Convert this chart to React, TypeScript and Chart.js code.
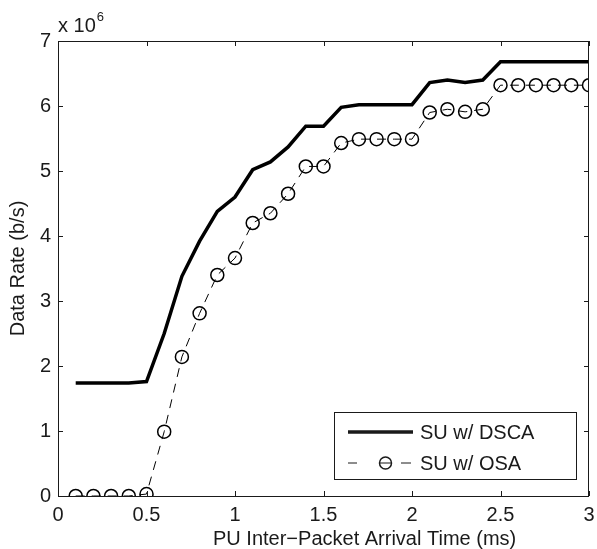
import React, { useEffect, useRef } from "react";
import { Chart, registerables } from "chart.js";

Chart.register(...registerables);

const xValues = [0.1, 0.2, 0.3, 0.4, 0.5, 0.6, 0.7, 0.8, 0.9, 1.0, 1.1, 1.2, 1.3, 1.4, 1.5, 1.6, 1.7, 1.8, 1.9, 2.0, 2.1, 2.2, 2.3, 2.4, 2.5, 2.6, 2.7, 2.8, 2.9, 3.0];
const dscaValues = [1.74, 1.74, 1.74, 1.74, 1.76, 2.5, 3.38, 3.92, 4.38, 4.6, 5.02, 5.14, 5.37, 5.69, 5.69, 5.98, 6.02, 6.02, 6.02, 6.02, 6.36, 6.4, 6.36, 6.4, 6.68, 6.68, 6.68, 6.68, 6.68, 6.68];
const osaValues = [0, 0, 0, 0, 0.03, 0.99, 2.14, 2.81, 3.4, 3.66, 4.2, 4.35, 4.65, 5.07, 5.07, 5.43, 5.49, 5.49, 5.49, 5.49, 5.9, 5.95, 5.91, 5.95, 6.32, 6.32, 6.32, 6.32, 6.32, 6.32];
const SCALE = 1e6;
const xTicks = [0, 0.5, 1, 1.5, 2, 2.5, 3];
const yTicks = [0, 1, 2, 3, 4, 5, 6, 7];
const seriesNames = ["SU w/ DSCA", "SU w/ OSA"];
const xTitle = "PU Inter\u2212Packet Arrival Time (ms)";
const yTitle = "Data Rate (b/s)";

const FONT = "'Liberation Sans', Arial, Helvetica, sans-serif";
const INK = "#1a1a1a";

const overlay = {
  id: "matlabOverlay",
  afterDraw(chart: any) {
    const { ctx, chartArea: a, scales } = chart;
    const xs = scales.x;
    const ys = scales.y;
    ctx.save();
    ctx.strokeStyle = INK;
    ctx.lineWidth = 1;
    // box
    ctx.strokeRect(Math.round(a.left) + 0.5, Math.round(a.top) + 0.5, Math.round(a.right - a.left) - 1, Math.round(a.bottom - a.top));
    // inward ticks
    const tl = 5;
    ctx.beginPath();
    xTicks.forEach((t) => {
      const px = Math.round(xs.getPixelForValue(t)) + 0.5;
      ctx.moveTo(px, a.bottom);
      ctx.lineTo(px, a.bottom - tl);
      ctx.moveTo(px, a.top);
      ctx.lineTo(px, a.top + tl);
    });
    yTicks.forEach((t) => {
      const py = Math.round(ys.getPixelForValue(t * SCALE)) + 0.5;
      ctx.moveTo(a.left, py);
      ctx.lineTo(a.left + tl, py);
      ctx.moveTo(a.right, py);
      ctx.lineTo(a.right - tl, py);
    });
    ctx.stroke();

    ctx.fillStyle = INK;
    // exponent label
    ctx.textBaseline = "alphabetic";
    ctx.textAlign = "left";
    ctx.font = `20px ${FONT}`;
    const base = "x 10";
    ctx.fillText(base, a.left, 32);
    const w = ctx.measureText(base).width;
    ctx.font = `13px ${FONT}`;
    ctx.fillText("6", a.left + w + 1, 21);

    // axis titles
    ctx.font = `20px ${FONT}`;
    ctx.textAlign = "left";
    ctx.textBaseline = "middle";
    ctx.fillText(xTitle, 213, 539);
    ctx.save();
    ctx.translate(18, (a.top + a.bottom) / 2);
    ctx.rotate(-Math.PI / 2);
    ctx.textAlign = "center";
    ctx.fillText(yTitle, 0, 0);
    ctx.restore();

    // legend
    const lx = 334, ly = 412, lw = 242, lh = 67;
    ctx.fillStyle = "#ffffff";
    ctx.fillRect(lx, ly, lw, lh);
    ctx.strokeStyle = INK;
    ctx.lineWidth = 1;
    ctx.strokeRect(lx + 0.5, ly + 0.5, lw, lh);
    const r1 = 432, r2 = 463;
    ctx.lineWidth = 3.5;
    ctx.beginPath();
    ctx.moveTo(348, r1);
    ctx.lineTo(413, r1);
    ctx.stroke();
    ctx.lineWidth = 1;
    ctx.beginPath();
    ctx.moveTo(348, r2);
    ctx.lineTo(357, r2);
    ctx.moveTo(380, r2);
    ctx.lineTo(391, r2);
    ctx.moveTo(401, r2);
    ctx.lineTo(411, r2);
    ctx.stroke();
    ctx.lineWidth = 1.5;
    ctx.beginPath();
    ctx.arc(385.5, r2, 6, 0, Math.PI * 2);
    ctx.stroke();
    ctx.fillStyle = INK;
    ctx.font = `20px ${FONT}`;
    ctx.textAlign = "left";
    ctx.textBaseline = "middle";
    ctx.fillText(seriesNames[0], 420, r1 + 1);
    ctx.fillText(seriesNames[1], 420, r2 + 1);
    ctx.restore();
  },
};

export default function App() {
  const ref = useRef<HTMLCanvasElement | null>(null);
  useEffect(() => {
    if (!ref.current) return;
    const chart = new Chart(ref.current, {
      type: "line",
      data: {
        datasets: [
          {
            label: seriesNames[0],
            data: xValues.map((x, i) => ({ x, y: dscaValues[i] * SCALE })),
            borderColor: "#000",
            borderWidth: 3.5,
            pointRadius: 0,
            tension: 0,
          },
          {
            label: seriesNames[1],
            data: xValues.map((x, i) => ({ x, y: osaValues[i] * SCALE })),
            borderColor: "#000",
            borderWidth: 1,
            borderDash: [9, 7],
            pointRadius: 6.5,
            pointStyle: "circle",
            pointBorderWidth: 1.5,
            pointBorderColor: "#000",
            pointBackgroundColor: "rgba(0,0,0,0)",
            tension: 0,
          },
        ],
      },
      options: {
        animation: false,
        responsive: false,
        maintainAspectRatio: false,
        layout: { padding: { top: 41, right: 8, left: 0, bottom: 0 } },
        plugins: { legend: { display: false }, tooltip: { enabled: false } },
        scales: {
          x: {
            type: "linear",
            min: 0,
            max: 3,
            grid: { display: false, drawTicks: false },
            border: { display: false },
            afterBuildTicks: (s: any) => {
              s.ticks = xTicks.map((v) => ({ value: v }));
            },
            ticks: {
              padding: 7,
              color: INK,
              font: { family: FONT, size: 20 },
              maxRotation: 0,
              callback: (v: any) => String(v),
            },
            afterFit: (s: any) => {
              s.height = 53;
              s.paddingLeft = 0;
              s.paddingRight = 0;
            },
          },
          y: {
            type: "linear",
            min: 0,
            max: 7 * SCALE,
            grid: { display: false, drawTicks: false },
            border: { display: false },
            afterBuildTicks: (s: any) => {
              s.ticks = yTicks.map((v) => ({ value: v * SCALE }));
            },
            ticks: {
              padding: 7,
              color: INK,
              font: { family: FONT, size: 20 },
              callback: (v: any) => String(Number(v) / SCALE),
            },
            afterFit: (s: any) => {
              s.width = 58;
              s.paddingTop = 0;
              s.paddingBottom = 0;
            },
          },
        },
      },
      plugins: [overlay],
    });
    return () => chart.destroy();
  }, []);
  return (
    <div style={{ position: "absolute", left: 0, top: 0, width: 597, height: 549, background: "#fff" }}>
      <canvas ref={ref} width={597} height={549} style={{ display: "block" }} />
    </div>
  );
}
